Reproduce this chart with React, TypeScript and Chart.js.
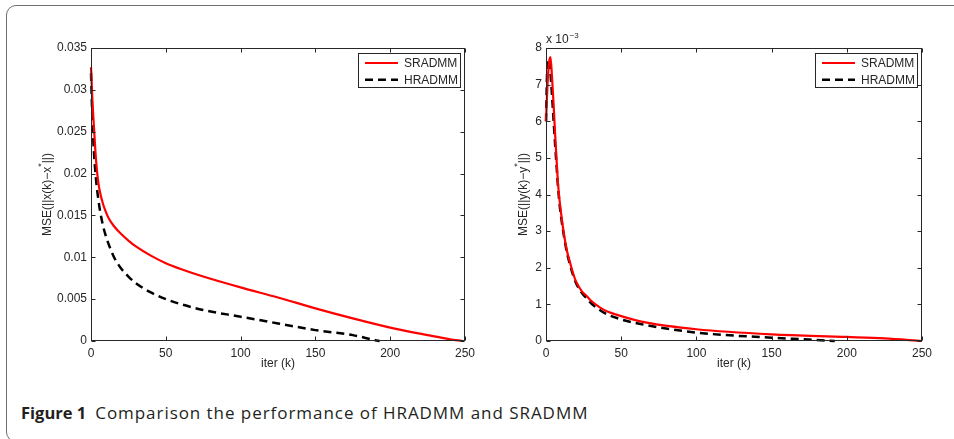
import React, { useEffect, useRef } from "react";
import { Chart, registerables } from "chart.js";

Chart.register(...registerables);

const FONT = '"Liberation Sans", Arial, Helvetica, sans-serif';
const INK = "#262626";

// ---------- data ----------
const seriesNames = ["SRADMM", "HRADMM"];
const xTickValues = [0, 50, 100, 150, 200, 250];
const xTickLabels = ["0", "50", "100", "150", "200", "250"];

// Panel 1: MSE(||x(k) - x*||)
const yTickValues1 = [0, 0.005, 0.01, 0.015, 0.02, 0.025, 0.03, 0.035];
const yTickLabels1 = ["0", "0.005", "0.01", "0.015", "0.02", "0.025", "0.03", "0.035"];
const iterS1 = [0, 1, 2, 3, 4, 5, 6, 8, 10, 12, 15, 20, 25, 30, 40, 50, 60, 75, 100, 125, 150, 175, 200, 225, 240, 248];
const mseS1 = [0.0327, 0.0285, 0.0255, 0.0225, 0.0203, 0.0188, 0.0178, 0.0164, 0.0154, 0.0146, 0.0138, 0.0128, 0.012, 0.0113, 0.0102, 0.0093, 0.0086, 0.0077, 0.0064, 0.0052, 0.0039, 0.0027, 0.0016, 0.0007, 0.0002, 0];
const iterH1 = [0, 1, 2, 3, 4, 5, 6, 8, 10, 13, 16, 20, 25, 30, 40, 50, 60, 75, 100, 125, 150, 175, 190, 193];
const mseH1 = [0.032, 0.0262, 0.0225, 0.02, 0.0182, 0.0168, 0.0156, 0.0138, 0.0125, 0.011, 0.0098, 0.0087, 0.0077, 0.0069, 0.0058, 0.005, 0.0044, 0.0037, 0.0029, 0.0021, 0.0013, 0.0007, 0.0001, 0];

// Panel 2: MSE(||y(k) - y*||), values in units of 10^-3
const yTickValues2 = [0, 1, 2, 3, 4, 5, 6, 7, 8];
const yTickLabels2 = ["0", "1", "2", "3", "4", "5", "6", "7", "8"];
const iterS2 = [0, 1, 2, 3, 4, 5, 6, 7, 8, 9, 10, 12, 14, 16, 18, 20, 24, 27, 30, 36, 40, 50, 67, 100, 150, 200, 225, 250];
const mseS2 = [6.0, 7.0, 7.6, 7.75, 7.2, 6.5, 5.7, 4.96, 4.3, 3.85, 3.5, 2.9, 2.45, 2.14, 1.85, 1.62, 1.35, 1.23, 1.1, 0.91, 0.82, 0.68, 0.5, 0.32, 0.18, 0.11, 0.07, 0];
const iterH2 = [0, 1, 2, 3, 4, 5, 6, 7, 8, 9, 10, 12, 14, 16, 18, 20, 24, 27, 30, 36, 40, 50, 67, 100, 150, 175, 192];
const mseH2 = [6.0, 7.6, 7.7, 7.3, 6.7, 6.05, 5.4, 4.8, 4.2, 3.75, 3.4, 2.85, 2.4, 2.08, 1.8, 1.58, 1.3, 1.17, 1.03, 0.84, 0.74, 0.59, 0.43, 0.23, 0.09, 0.04, 0];

const zip = (xs: number[], ys: number[]) => xs.map((x, i) => ({ x, y: ys[i] }));

// ---------- plugin drawing MATLAB-like frame, ticks, titles, legend ----------
const matlabPlugin = {
  id: "matlab",
  afterDraw(chart: any, _args: any, opts: any) {
    const { ctx, chartArea: a, scales } = chart;
    const L = Math.round(a.left) + 0.5;
    const R = Math.round(a.right) - 0.5;
    const T = Math.round(a.top) + 0.5;
    const B = Math.round(a.bottom) - 0.5;
    ctx.save();
    ctx.strokeStyle = INK;
    ctx.lineWidth = 1;
    ctx.setLineDash([]);
    ctx.strokeRect(L, T, R - L, B - T);
    ctx.beginPath();
    for (const t of scales.x.ticks) {
      const px = Math.round(scales.x.getPixelForValue(t.value)) + 0.5;
      ctx.moveTo(px, B);
      ctx.lineTo(px, B - 4);
      ctx.moveTo(px, T);
      ctx.lineTo(px, T + 4);
    }
    for (const t of scales.y.ticks) {
      const py = Math.round(scales.y.getPixelForValue(t.value)) + 0.5;
      ctx.moveTo(L, py);
      ctx.lineTo(L + 4, py);
      ctx.moveTo(R, py);
      ctx.lineTo(R - 4, py);
    }
    ctx.stroke();

    // x title
    ctx.fillStyle = INK;
    ctx.font = `12px ${FONT}`;
    ctx.textAlign = "center";
    ctx.textBaseline = "middle";
    ctx.fillText(opts.xTitle, (a.left + a.right) / 2, a.bottom + 23);

    // y title with superscript star
    ctx.save();
    ctx.translate(a.left - opts.yTitleOffset, (a.top + a.bottom) / 2);
    ctx.rotate(-Math.PI / 2);
    ctx.textAlign = "left";
    ctx.textBaseline = "alphabetic";
    const [p1, sup, p2] = opts.yTitleParts;
    ctx.font = `12px ${FONT}`;
    const w1 = ctx.measureText(p1).width;
    const w2 = ctx.measureText(p2).width;
    ctx.font = `9px ${FONT}`;
    const ws = ctx.measureText(sup).width;
    const x0 = -(w1 + ws + w2) / 2;
    ctx.font = `12px ${FONT}`;
    ctx.fillText(p1, x0, 4);
    ctx.font = `9px ${FONT}`;
    ctx.fillText(sup, x0 + w1, -3);
    ctx.font = `12px ${FONT}`;
    ctx.fillText(p2, x0 + w1 + ws, 4);
    ctx.restore();

    // exponent label
    if (opts.exponent) {
      ctx.textAlign = "left";
      ctx.textBaseline = "alphabetic";
      ctx.font = `12px ${FONT}`;
      const base = "x 10";
      ctx.fillText(base, a.left, a.top - 5);
      const wb = ctx.measureText(base).width;
      ctx.font = `8px ${FONT}`;
      ctx.fillText(opts.exponent, a.left + wb + 1, a.top - 10);
    }

    // legend
    const bw = 102;
    const bh = 34;
    const bx = Math.round(a.right) - 5 - bw;
    const by = Math.round(a.top) + 5;
    ctx.fillStyle = "#ffffff";
    ctx.fillRect(bx, by, bw, bh);
    ctx.strokeStyle = INK;
    ctx.lineWidth = 1;
    ctx.strokeRect(bx + 0.5, by + 0.5, bw, bh);
    chart.data.datasets.forEach((ds: any, i: number) => {
      const y = by + 10 + i * 16.7;
      ctx.beginPath();
      ctx.strokeStyle = ds.borderColor;
      ctx.lineWidth = ds.borderWidth;
      ctx.setLineDash(ds.borderDash || []);
      ctx.moveTo(bx + 7, y);
      ctx.lineTo(bx + 40, y);
      ctx.stroke();
      ctx.setLineDash([]);
      ctx.fillStyle = INK;
      ctx.font = `12px ${FONT}`;
      ctx.textAlign = "left";
      ctx.textBaseline = "middle";
      ctx.fillText(ds.label, bx + 46, y + 0.5);
    });
    ctx.restore();
  },
};

type PanelProps = {
  left: number;
  width: number;
  yAxisWidth: number;
  padRight: number;
  series: { x: number; y: number }[][];
  yMax: number;
  yTicks: number[];
  yLabels: string[];
  yTitleParts: string[];
  yTitleOffset: number;
  exponent?: string;
};

const Panel = (p: PanelProps) => {
  const ref = useRef<HTMLCanvasElement>(null);
  useEffect(() => {
    const chart = new Chart(ref.current as HTMLCanvasElement, {
      type: "line",
      data: {
        datasets: [
          {
            label: seriesNames[0],
            data: p.series[0],
            borderColor: "#ff0000",
            borderWidth: 2.2,
            pointRadius: 0,
            cubicInterpolationMode: "monotone",
            fill: false,
            clip: 3,
          },
          {
            label: seriesNames[1],
            data: p.series[1],
            borderColor: "#000000",
            borderWidth: 2.5,
            borderDash: [8, 5],
            pointRadius: 0,
            cubicInterpolationMode: "monotone",
            fill: false,
            clip: 3,
          },
        ],
      } as any,
      options: {
        animation: false,
        responsive: false,
        maintainAspectRatio: false,
        layout: { padding: { top: 48, right: p.padRight, left: 0, bottom: 0 } },
        plugins: {
          legend: { display: false },
          tooltip: { enabled: false },
          matlab: {
            xTitle: "iter (k)",
            yTitleParts: p.yTitleParts,
            yTitleOffset: p.yTitleOffset,
            exponent: p.exponent,
          },
        } as any,
        scales: {
          x: {
            type: "linear",
            min: 0,
            max: 250,
            afterBuildTicks: (s: any) => {
              s.ticks = xTickValues.map((v) => ({ value: v }));
            },
            afterFit: (s: any) => {
              s.height = 39;
            },
            grid: { display: false, drawTicks: false },
            border: { display: false },
            ticks: {
              padding: 5,
              maxRotation: 0,
              autoSkip: false,
              color: INK,
              font: { family: FONT, size: 12 },
              callback: (_v: any, i: number) => xTickLabels[i],
            },
          },
          y: {
            type: "linear",
            min: 0,
            max: p.yMax,
            afterBuildTicks: (s: any) => {
              s.ticks = p.yTicks.map((v) => ({ value: v }));
            },
            afterFit: (s: any) => {
              s.width = p.yAxisWidth;
            },
            grid: { display: false, drawTicks: false },
            border: { display: false },
            ticks: {
              padding: 4,
              autoSkip: false,
              color: INK,
              font: { family: FONT, size: 12 },
              callback: (_v: any, i: number) => p.yLabels[i],
            },
          },
        },
      } as any,
      plugins: [matlabPlugin as any],
    });
    return () => chart.destroy();
  }, []);
  return (
    <canvas
      ref={ref}
      width={p.width}
      height={380}
      style={{ position: "absolute", left: p.left, top: 0, width: p.width, height: 380 }}
    />
  );
};

export default function App() {
  return (
    <div
      style={{
        position: "absolute",
        left: 0,
        top: 0,
        width: 954,
        height: 439,
        overflow: "hidden",
        background: "#ffffff",
      }}
    >
      <div
        style={{
          position: "absolute",
          left: 6,
          top: 5,
          width: 1100,
          height: 437,
          border: "1.5px solid #6f6f6f",
          borderRadius: 10,
          boxSizing: "border-box",
        }}
      />
      <Panel
        left={0}
        width={480}
        yAxisWidth={91}
        padRight={13}
        series={[zip(iterS1, mseS1), zip(iterH1, mseH1)]}
        yMax={0.035}
        yTicks={yTickValues1}
        yLabels={yTickLabels1}
        yTitleParts={["MSE(||x(k)\u2212x", "*", "||)"]}
        yTitleOffset={44}
      />
      <Panel
        left={480}
        width={474}
        yAxisWidth={66}
        padRight={32}
        series={[zip(iterS2, mseS2), zip(iterH2, mseH2)]}
        yMax={8}
        yTicks={yTickValues2}
        yLabels={yTickLabels2}
        yTitleParts={["MSE(||y(k)\u2212y", "*", "||)"]}
        yTitleOffset={23}
        exponent={"\u22123"}
      />
      <div
        style={{
          position: "absolute",
          left: 21,
          top: 402,
          fontFamily: '"Open Sans", "Noto Sans", sans-serif',
          fontSize: 16,
          color: "#231f20",
          whiteSpace: "nowrap",
          lineHeight: "22px",
        }}
      >
        <span style={{ fontWeight: 700, fontSize: 16.5 }}>Figure 1</span>
        <span style={{ marginLeft: 9, fontSize: 17, letterSpacing: "0.95px" }}>
          Comparison the performance of HRADMM and SRADMM
        </span>
      </div>
    </div>
  );
}
